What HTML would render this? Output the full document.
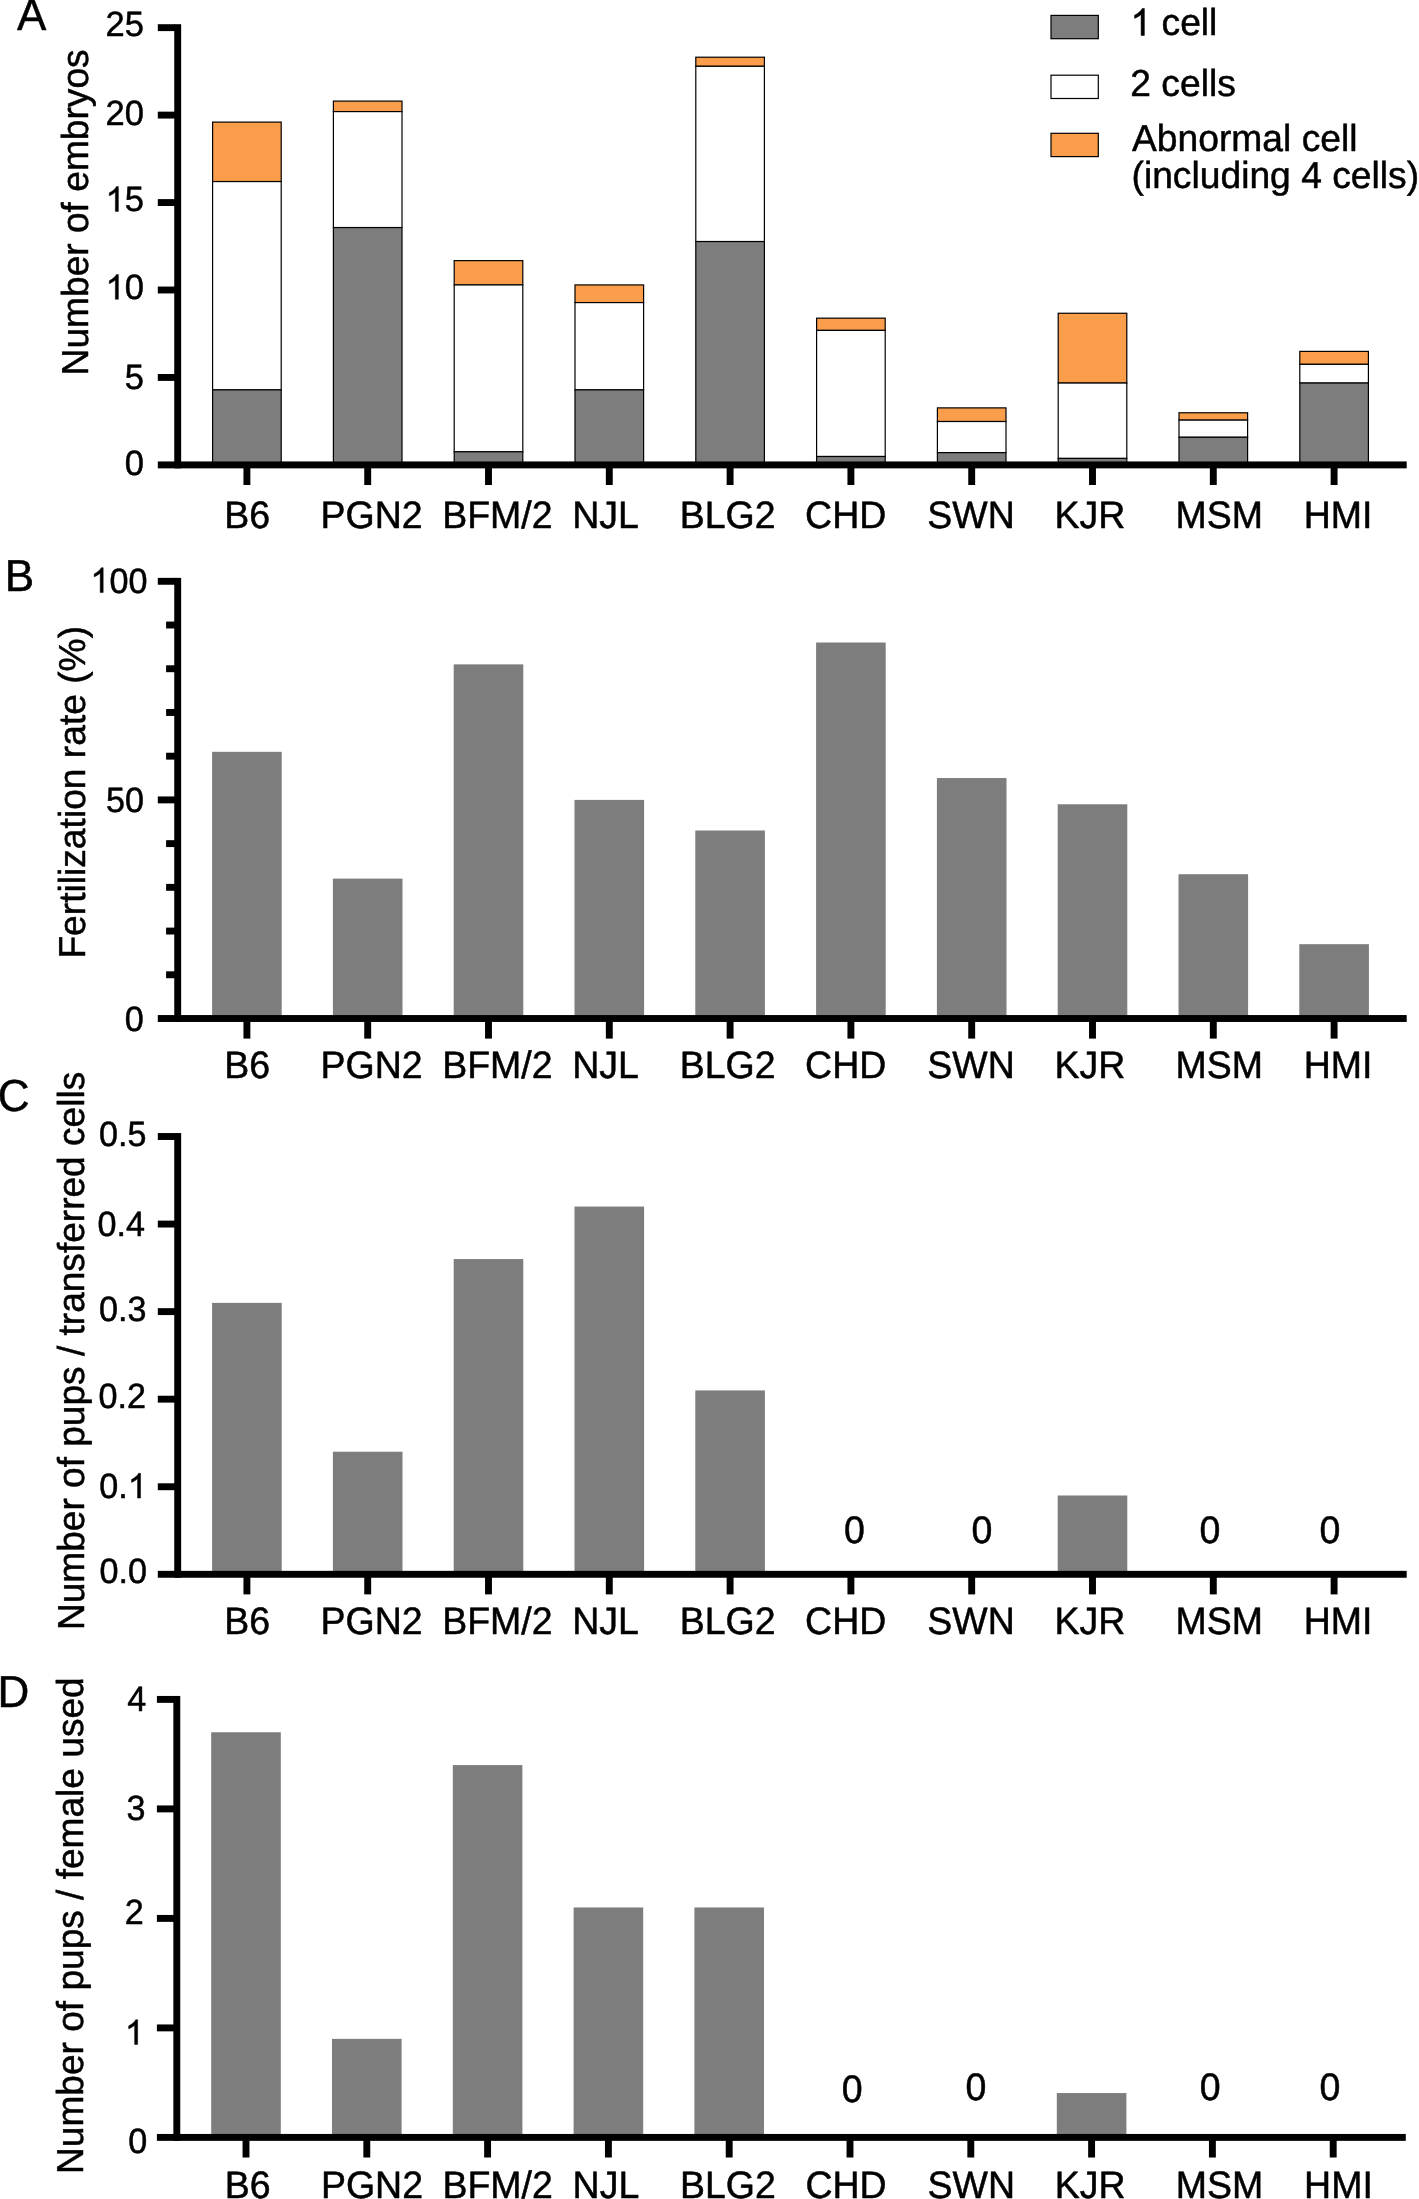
<!DOCTYPE html>
<html lang="en">
<head>
<meta charset="utf-8">
<title>Figure</title>
<style>
html,body{margin:0;padding:0;background:#fff;}
body{width:1419px;height:2199px;overflow:hidden;font-family:'Liberation Sans', sans-serif;}
svg{display:block;will-change:transform;}
svg text{font-family:'Liberation Sans', sans-serif;fill:#000;stroke:#000;stroke-width:0.5px;stroke-linejoin:round;text-rendering:geometricPrecision;}
svg path{fill:#000;stroke:#000;stroke-width:28px;stroke-linejoin:round;}
</style>
</head>
<body>
<svg width="1419" height="2199" viewBox="0 0 1419 2199">
<rect x="0" y="0" width="1419" height="2199" fill="#fff"/>
<rect x="212.6" y="122.1" width="68.6" height="59.47" fill="#fb9e4c" stroke="#000" stroke-width="1.2"/>
<rect x="212.6" y="181.56" width="68.6" height="208.31" fill="#fff" stroke="#000" stroke-width="1.2"/>
<rect x="212.6" y="389.87" width="68.6" height="75.03" fill="#7d7d7d" stroke="#000" stroke-width="1.2"/>
<rect x="333.4" y="101.11" width="68.6" height="10.49" fill="#fb9e4c" stroke="#000" stroke-width="1.2"/>
<rect x="333.4" y="111.6" width="68.6" height="115.96" fill="#fff" stroke="#000" stroke-width="1.2"/>
<rect x="333.4" y="227.56" width="68.6" height="237.34" fill="#7d7d7d" stroke="#000" stroke-width="1.2"/>
<rect x="454.2" y="260.62" width="68.6" height="24.31" fill="#fb9e4c" stroke="#000" stroke-width="1.2"/>
<rect x="454.2" y="284.93" width="68.6" height="166.85" fill="#fff" stroke="#000" stroke-width="1.2"/>
<rect x="454.2" y="451.78" width="68.6" height="13.12" fill="#7d7d7d" stroke="#000" stroke-width="1.2"/>
<rect x="575" y="284.93" width="68.6" height="17.66" fill="#fb9e4c" stroke="#000" stroke-width="1.2"/>
<rect x="575" y="302.59" width="68.6" height="87.28" fill="#fff" stroke="#000" stroke-width="1.2"/>
<rect x="575" y="389.87" width="68.6" height="75.03" fill="#7d7d7d" stroke="#000" stroke-width="1.2"/>
<rect x="695.8" y="57.21" width="68.6" height="9.09" fill="#fb9e4c" stroke="#000" stroke-width="1.2"/>
<rect x="695.8" y="66.3" width="68.6" height="175.25" fill="#fff" stroke="#000" stroke-width="1.2"/>
<rect x="695.8" y="241.55" width="68.6" height="223.35" fill="#7d7d7d" stroke="#000" stroke-width="1.2"/>
<rect x="816.6" y="318.16" width="68.6" height="12.24" fill="#fb9e4c" stroke="#000" stroke-width="1.2"/>
<rect x="816.6" y="330.4" width="68.6" height="126.1" fill="#fff" stroke="#000" stroke-width="1.2"/>
<rect x="816.6" y="456.5" width="68.6" height="8.4" fill="#7d7d7d" stroke="#000" stroke-width="1.2"/>
<rect x="937.4" y="407.88" width="68.6" height="13.64" fill="#fb9e4c" stroke="#000" stroke-width="1.2"/>
<rect x="937.4" y="421.52" width="68.6" height="31.13" fill="#fff" stroke="#000" stroke-width="1.2"/>
<rect x="937.4" y="452.66" width="68.6" height="12.24" fill="#7d7d7d" stroke="#000" stroke-width="1.2"/>
<rect x="1058.2" y="313.26" width="68.6" height="69.79" fill="#fb9e4c" stroke="#000" stroke-width="1.2"/>
<rect x="1058.2" y="383.05" width="68.6" height="75.38" fill="#fff" stroke="#000" stroke-width="1.2"/>
<rect x="1058.2" y="458.43" width="68.6" height="6.47" fill="#7d7d7d" stroke="#000" stroke-width="1.2"/>
<rect x="1179" y="412.78" width="68.6" height="7.35" fill="#fb9e4c" stroke="#000" stroke-width="1.2"/>
<rect x="1179" y="420.13" width="68.6" height="17.14" fill="#fff" stroke="#000" stroke-width="1.2"/>
<rect x="1179" y="437.27" width="68.6" height="27.63" fill="#7d7d7d" stroke="#000" stroke-width="1.2"/>
<rect x="1299.8" y="351.39" width="68.6" height="12.94" fill="#fb9e4c" stroke="#000" stroke-width="1.2"/>
<rect x="1299.8" y="364.33" width="68.6" height="18.71" fill="#fff" stroke="#000" stroke-width="1.2"/>
<rect x="1299.8" y="383.05" width="68.6" height="81.85" fill="#7d7d7d" stroke="#000" stroke-width="1.2"/>
<rect x="174.25" y="24.2" width="6.9" height="444.15" fill="#000"/>
<rect x="157.8" y="461.45" width="1248.9" height="6.9" fill="#000"/>
<rect x="157.8" y="374" width="17.2" height="6.9" fill="#000"/>
<rect x="157.8" y="286.55" width="17.2" height="6.9" fill="#000"/>
<rect x="157.8" y="199.1" width="17.2" height="6.9" fill="#000"/>
<rect x="157.8" y="111.65" width="17.2" height="6.9" fill="#000"/>
<rect x="157.8" y="24.2" width="17.2" height="6.9" fill="#000"/>
<g transform="translate(143.9 474.6) scale(1.0000 1)">
<text transform="translate(-19.19 0) scale(1 1.0200)" font-size="34.5">0</text>
</g>
<g transform="translate(143.9 388.8) scale(1.0000 1)">
<text transform="translate(-19.19 0) scale(1 1.0200)" font-size="34.5">5</text>
</g>
<g transform="translate(143.9 299.3) scale(1.0000 1)">
<path transform="translate(-38.37 0) scale(0.01685 -0.01685)" d="M763 0H583V1147Q518 1085 412.5 1023T223 930V1104Q374 1175 487 1276T647 1472H763Z"/>
<text transform="translate(-19.19 0) scale(1 1.0200)" font-size="34.5">0</text>
</g>
<g transform="translate(143.9 211.4) scale(1.0000 1)">
<path transform="translate(-38.37 0) scale(0.01685 -0.01685)" d="M763 0H583V1147Q518 1085 412.5 1023T223 930V1104Q374 1175 487 1276T647 1472H763Z"/>
<text transform="translate(-19.19 0) scale(1 1.0200)" font-size="34.5">5</text>
</g>
<g transform="translate(143.9 125.2) scale(1.0000 1)">
<text transform="translate(-38.37 0) scale(1 1.0200)" font-size="34.5">20</text>
</g>
<g transform="translate(143.9 36.3) scale(1.0000 1)">
<text transform="translate(-38.37 0) scale(1 1.0200)" font-size="34.5">25</text>
</g>
<rect x="243.45" y="464.9" width="6.9" height="20.1" fill="#000"/>
<rect x="364.25" y="464.9" width="6.9" height="20.1" fill="#000"/>
<rect x="485.05" y="464.9" width="6.9" height="20.1" fill="#000"/>
<rect x="605.85" y="464.9" width="6.9" height="20.1" fill="#000"/>
<rect x="726.65" y="464.9" width="6.9" height="20.1" fill="#000"/>
<rect x="847.45" y="464.9" width="6.9" height="20.1" fill="#000"/>
<rect x="968.25" y="464.9" width="6.9" height="20.1" fill="#000"/>
<rect x="1089.05" y="464.9" width="6.9" height="20.1" fill="#000"/>
<rect x="1209.85" y="464.9" width="6.9" height="20.1" fill="#000"/>
<rect x="1330.65" y="464.9" width="6.9" height="20.1" fill="#000"/>
<text transform="translate(247.3 528) scale(1.0000 1.0200)" font-size="37.5" text-anchor="middle">B6</text>
<text transform="translate(371.65 528) scale(1.0000 1.0200)" font-size="37.5" text-anchor="middle">PGN2</text>
<text transform="translate(497.35 528) scale(1.0000 1.0200)" font-size="37.5" text-anchor="middle">BFM/2</text>
<text transform="translate(605.6 528) scale(1.0000 1.0200)" font-size="37.5" text-anchor="middle">NJL</text>
<text transform="translate(727.6 528) scale(1.0000 1.0200)" font-size="37.5" text-anchor="middle">BLG2</text>
<text transform="translate(845.7 528) scale(1.0000 1.0200)" font-size="37.5" text-anchor="middle">CHD</text>
<text transform="translate(971 528) scale(1.0000 1.0200)" font-size="37.5" text-anchor="middle">SWN</text>
<text transform="translate(1089.8 528) scale(1.0000 1.0200)" font-size="37.5" text-anchor="middle">KJR</text>
<text transform="translate(1219.25 528) scale(1.0000 1.0200)" font-size="37.5" text-anchor="middle">MSM</text>
<text transform="translate(1338.15 528) scale(1.0000 1.0200)" font-size="37.5" text-anchor="middle">HMI</text>
<text transform="translate(88.3 375.4) rotate(-90) scale(0.9900 1.0000)" font-size="37.5" text-anchor="start">Number of embryos</text>
<text transform="translate(16.9 30.3) scale(1.0000 1.0200)" font-size="44" text-anchor="start">A</text>
<rect x="1051" y="15.4" width="47.3" height="23.3" fill="#7d7d7d" stroke="#000" stroke-width="1.2"/>
<rect x="1051" y="75.2" width="47.3" height="23.3" fill="#fff" stroke="#000" stroke-width="1.2"/>
<rect x="1051" y="133.3" width="47.3" height="23.3" fill="#fb9e4c" stroke="#000" stroke-width="1.2"/>
<g transform="translate(1130.5 35.4) scale(0.9925 1)">
<path transform="translate(0 0) scale(0.01831 -0.01831)" d="M763 0H583V1147Q518 1085 412.5 1023T223 930V1104Q374 1175 487 1276T647 1472H763Z"/>
</g>
<text transform="translate(1161.54 35.4) scale(0.9925 1.0000)" font-size="37.5" text-anchor="start">cell</text>
<text transform="translate(1130.3 95.6) scale(0.9925 1.0000)" font-size="37.5" text-anchor="start">2 cells</text>
<text transform="translate(1132 150.6) scale(0.9925 1.0000)" font-size="37.5" text-anchor="start">Abnormal cell</text>
<text transform="translate(1131.5 187.5) scale(0.9925 1.0000)" font-size="37.5" text-anchor="start">(including 4 cells)</text>
<rect x="212.1" y="751.81" width="69.6" height="266.69" fill="#7d7d7d"/>
<rect x="332.9" y="878.6" width="69.6" height="139.9" fill="#7d7d7d"/>
<rect x="453.7" y="664.37" width="69.6" height="354.13" fill="#7d7d7d"/>
<rect x="574.5" y="799.9" width="69.6" height="218.6" fill="#7d7d7d"/>
<rect x="695.3" y="830.5" width="69.6" height="188" fill="#7d7d7d"/>
<rect x="816.1" y="642.51" width="69.6" height="375.99" fill="#7d7d7d"/>
<rect x="936.9" y="778.04" width="69.6" height="240.46" fill="#7d7d7d"/>
<rect x="1057.7" y="804.27" width="69.6" height="214.23" fill="#7d7d7d"/>
<rect x="1178.5" y="874.22" width="69.6" height="144.28" fill="#7d7d7d"/>
<rect x="1299.3" y="944.18" width="69.6" height="74.32" fill="#7d7d7d"/>
<rect x="174.25" y="577.85" width="6.9" height="444.1" fill="#000"/>
<rect x="157.8" y="1015.05" width="1248.9" height="6.9" fill="#000"/>
<rect x="166.1" y="971.33" width="8.9" height="6.9" fill="#000"/>
<rect x="166.1" y="927.61" width="8.9" height="6.9" fill="#000"/>
<rect x="166.1" y="883.89" width="8.9" height="6.9" fill="#000"/>
<rect x="166.1" y="840.17" width="8.9" height="6.9" fill="#000"/>
<rect x="157.8" y="796.45" width="17.2" height="6.9" fill="#000"/>
<rect x="166.1" y="752.73" width="8.9" height="6.9" fill="#000"/>
<rect x="166.1" y="709.01" width="8.9" height="6.9" fill="#000"/>
<rect x="166.1" y="665.29" width="8.9" height="6.9" fill="#000"/>
<rect x="166.1" y="621.57" width="8.9" height="6.9" fill="#000"/>
<rect x="157.8" y="577.85" width="17.2" height="6.9" fill="#000"/>
<g transform="translate(147.4 592.5) scale(0.9890 1)">
<path transform="translate(-57.56 0) scale(0.01685 -0.01685)" d="M763 0H583V1147Q518 1085 412.5 1023T223 930V1104Q374 1175 487 1276T647 1472H763Z"/>
<text transform="translate(-38.37 0) scale(1 1.0200)" font-size="34.5">00</text>
</g>
<g transform="translate(143.9 812.4) scale(0.9890 1)">
<text transform="translate(-38.37 0) scale(1 1.0200)" font-size="34.5">50</text>
</g>
<g transform="translate(143.7 1030.7) scale(0.9890 1)">
<text transform="translate(-19.19 0) scale(1 1.0200)" font-size="34.5">0</text>
</g>
<rect x="243.45" y="1018.5" width="6.9" height="20.1" fill="#000"/>
<rect x="364.25" y="1018.5" width="6.9" height="20.1" fill="#000"/>
<rect x="485.05" y="1018.5" width="6.9" height="20.1" fill="#000"/>
<rect x="605.85" y="1018.5" width="6.9" height="20.1" fill="#000"/>
<rect x="726.65" y="1018.5" width="6.9" height="20.1" fill="#000"/>
<rect x="847.45" y="1018.5" width="6.9" height="20.1" fill="#000"/>
<rect x="968.25" y="1018.5" width="6.9" height="20.1" fill="#000"/>
<rect x="1089.05" y="1018.5" width="6.9" height="20.1" fill="#000"/>
<rect x="1209.85" y="1018.5" width="6.9" height="20.1" fill="#000"/>
<rect x="1330.65" y="1018.5" width="6.9" height="20.1" fill="#000"/>
<text transform="translate(247.3 1077.6) scale(1.0000 1.0200)" font-size="37.5" text-anchor="middle">B6</text>
<text transform="translate(371.65 1077.6) scale(1.0000 1.0200)" font-size="37.5" text-anchor="middle">PGN2</text>
<text transform="translate(497.35 1077.6) scale(1.0000 1.0200)" font-size="37.5" text-anchor="middle">BFM/2</text>
<text transform="translate(605.6 1077.6) scale(1.0000 1.0200)" font-size="37.5" text-anchor="middle">NJL</text>
<text transform="translate(727.6 1077.6) scale(1.0000 1.0200)" font-size="37.5" text-anchor="middle">BLG2</text>
<text transform="translate(845.7 1077.6) scale(1.0000 1.0200)" font-size="37.5" text-anchor="middle">CHD</text>
<text transform="translate(971 1077.6) scale(1.0000 1.0200)" font-size="37.5" text-anchor="middle">SWN</text>
<text transform="translate(1089.8 1077.6) scale(1.0000 1.0200)" font-size="37.5" text-anchor="middle">KJR</text>
<text transform="translate(1219.25 1077.6) scale(1.0000 1.0200)" font-size="37.5" text-anchor="middle">MSM</text>
<text transform="translate(1338.15 1077.6) scale(1.0000 1.0200)" font-size="37.5" text-anchor="middle">HMI</text>
<text transform="translate(85.4 958.6) rotate(-90) scale(0.9915 1.0000)" font-size="37.5" text-anchor="start">Fertilization rate (%)</text>
<text transform="translate(4.8 591) scale(1.0000 1.0200)" font-size="44" text-anchor="start">B</text>
<rect x="212.1" y="1302.86" width="69.6" height="271.44" fill="#7d7d7d"/>
<rect x="332.9" y="1451.72" width="69.6" height="122.58" fill="#7d7d7d"/>
<rect x="453.7" y="1259.08" width="69.6" height="315.22" fill="#7d7d7d"/>
<rect x="574.5" y="1206.55" width="69.6" height="367.75" fill="#7d7d7d"/>
<rect x="695.3" y="1390.42" width="69.6" height="183.88" fill="#7d7d7d"/>
<rect x="1057.7" y="1495.5" width="69.6" height="78.8" fill="#7d7d7d"/>
<rect x="174.25" y="1133.05" width="6.9" height="444.7" fill="#000"/>
<rect x="157.8" y="1570.85" width="1248.9" height="6.9" fill="#000"/>
<rect x="157.8" y="1483.29" width="17.2" height="6.9" fill="#000"/>
<rect x="157.8" y="1395.73" width="17.2" height="6.9" fill="#000"/>
<rect x="157.8" y="1308.17" width="17.2" height="6.9" fill="#000"/>
<rect x="157.8" y="1220.61" width="17.2" height="6.9" fill="#000"/>
<rect x="157.8" y="1133.05" width="17.2" height="6.9" fill="#000"/>
<g transform="translate(146.9 1583) scale(0.9890 1)">
<text transform="translate(-47.96 0) scale(1 1.0200)" font-size="34.5">0.0</text>
</g>
<g transform="translate(146.8 1498.1) scale(0.9890 1)">
<text transform="translate(-47.96 0) scale(1 1.0200)" font-size="34.5">0.</text>
<path transform="translate(-19.19 0) scale(0.01685 -0.01685)" d="M763 0H583V1147Q518 1085 412.5 1023T223 930V1104Q374 1175 487 1276T647 1472H763Z"/>
</g>
<g transform="translate(145.9 1408.1) scale(0.9890 1)">
<text transform="translate(-47.96 0) scale(1 1.0200)" font-size="34.5">0.2</text>
</g>
<g transform="translate(146.4 1320.9) scale(0.9890 1)">
<text transform="translate(-47.96 0) scale(1 1.0200)" font-size="34.5">0.3</text>
</g>
<g transform="translate(145 1236.3) scale(0.9890 1)">
<text transform="translate(-47.96 0) scale(1 1.0200)" font-size="34.5">0.4</text>
</g>
<g transform="translate(146.4 1145.5) scale(0.9890 1)">
<text transform="translate(-47.96 0) scale(1 1.0200)" font-size="34.5">0.5</text>
</g>
<rect x="243.45" y="1574.3" width="6.9" height="20.1" fill="#000"/>
<rect x="364.25" y="1574.3" width="6.9" height="20.1" fill="#000"/>
<rect x="485.05" y="1574.3" width="6.9" height="20.1" fill="#000"/>
<rect x="605.85" y="1574.3" width="6.9" height="20.1" fill="#000"/>
<rect x="726.65" y="1574.3" width="6.9" height="20.1" fill="#000"/>
<rect x="847.45" y="1574.3" width="6.9" height="20.1" fill="#000"/>
<rect x="968.25" y="1574.3" width="6.9" height="20.1" fill="#000"/>
<rect x="1089.05" y="1574.3" width="6.9" height="20.1" fill="#000"/>
<rect x="1209.85" y="1574.3" width="6.9" height="20.1" fill="#000"/>
<rect x="1330.65" y="1574.3" width="6.9" height="20.1" fill="#000"/>
<text transform="translate(247.3 1634.4) scale(1.0000 1.0200)" font-size="37.5" text-anchor="middle">B6</text>
<text transform="translate(371.65 1634.4) scale(1.0000 1.0200)" font-size="37.5" text-anchor="middle">PGN2</text>
<text transform="translate(497.35 1634.4) scale(1.0000 1.0200)" font-size="37.5" text-anchor="middle">BFM/2</text>
<text transform="translate(605.6 1634.4) scale(1.0000 1.0200)" font-size="37.5" text-anchor="middle">NJL</text>
<text transform="translate(727.6 1634.4) scale(1.0000 1.0200)" font-size="37.5" text-anchor="middle">BLG2</text>
<text transform="translate(845.7 1634.4) scale(1.0000 1.0200)" font-size="37.5" text-anchor="middle">CHD</text>
<text transform="translate(971 1634.4) scale(1.0000 1.0200)" font-size="37.5" text-anchor="middle">SWN</text>
<text transform="translate(1089.8 1634.4) scale(1.0000 1.0200)" font-size="37.5" text-anchor="middle">KJR</text>
<text transform="translate(1219.25 1634.4) scale(1.0000 1.0200)" font-size="37.5" text-anchor="middle">MSM</text>
<text transform="translate(1338.15 1634.4) scale(1.0000 1.0200)" font-size="37.5" text-anchor="middle">HMI</text>
<text transform="translate(84.3 1630.1) rotate(-90) scale(0.9884 1.0000)" font-size="37.5" text-anchor="start">Number of pups / transferred cells</text>
<text transform="translate(-2.2 1111) scale(1.0000 1.0200)" font-size="44" text-anchor="start">C</text>
<text transform="translate(854.4 1543) scale(1.0000 1.0200)" font-size="37.5" text-anchor="middle">0</text>
<text transform="translate(982 1543) scale(1.0000 1.0200)" font-size="37.5" text-anchor="middle">0</text>
<text transform="translate(1210 1543) scale(1.0000 1.0200)" font-size="37.5" text-anchor="middle">0</text>
<text transform="translate(1330 1543) scale(1.0000 1.0200)" font-size="37.5" text-anchor="middle">0</text>
<rect x="211.2" y="1732.25" width="69.6" height="405.15" fill="#7d7d7d"/>
<rect x="332" y="2038.85" width="69.6" height="98.55" fill="#7d7d7d"/>
<rect x="452.8" y="1765.1" width="69.6" height="372.3" fill="#7d7d7d"/>
<rect x="573.6" y="1907.45" width="69.6" height="229.95" fill="#7d7d7d"/>
<rect x="694.4" y="1907.45" width="69.6" height="229.95" fill="#7d7d7d"/>
<rect x="1056.8" y="2093.05" width="69.6" height="44.35" fill="#7d7d7d"/>
<rect x="173.35" y="1695.95" width="6.9" height="444.9" fill="#000"/>
<rect x="156.9" y="2133.95" width="1248.9" height="6.9" fill="#000"/>
<rect x="156.9" y="2024.45" width="17.2" height="6.9" fill="#000"/>
<rect x="156.9" y="1914.95" width="17.2" height="6.9" fill="#000"/>
<rect x="156.9" y="1805.45" width="17.2" height="6.9" fill="#000"/>
<rect x="156.9" y="1695.95" width="17.2" height="6.9" fill="#000"/>
<g transform="translate(147.2 2152.6) scale(0.9890 1)">
<text transform="translate(-19.19 0) scale(1 1.0200)" font-size="34.5">0</text>
</g>
<g transform="translate(143.9 2044.5) scale(0.9890 1)">
<path transform="translate(-19.19 0) scale(0.01685 -0.01685)" d="M763 0H583V1147Q518 1085 412.5 1023T223 930V1104Q374 1175 487 1276T647 1472H763Z"/>
</g>
<g transform="translate(143.7 1924) scale(0.9890 1)">
<text transform="translate(-19.19 0) scale(1 1.0200)" font-size="34.5">2</text>
</g>
<g transform="translate(145.4 1820.4) scale(0.9890 1)">
<text transform="translate(-19.19 0) scale(1 1.0200)" font-size="34.5">3</text>
</g>
<g transform="translate(146.2 1710.9) scale(0.9890 1)">
<text transform="translate(-19.19 0) scale(1 1.0200)" font-size="34.5">4</text>
</g>
<rect x="242.55" y="2137.4" width="6.9" height="20.1" fill="#000"/>
<rect x="363.35" y="2137.4" width="6.9" height="20.1" fill="#000"/>
<rect x="484.15" y="2137.4" width="6.9" height="20.1" fill="#000"/>
<rect x="604.95" y="2137.4" width="6.9" height="20.1" fill="#000"/>
<rect x="725.75" y="2137.4" width="6.9" height="20.1" fill="#000"/>
<rect x="846.55" y="2137.4" width="6.9" height="20.1" fill="#000"/>
<rect x="967.35" y="2137.4" width="6.9" height="20.1" fill="#000"/>
<rect x="1088.15" y="2137.4" width="6.9" height="20.1" fill="#000"/>
<rect x="1208.95" y="2137.4" width="6.9" height="20.1" fill="#000"/>
<rect x="1329.75" y="2137.4" width="6.9" height="20.1" fill="#000"/>
<text transform="translate(247.6 2198.4) scale(1.0000 1.0200)" font-size="37.5" text-anchor="middle">B6</text>
<text transform="translate(371.95 2198.4) scale(1.0000 1.0200)" font-size="37.5" text-anchor="middle">PGN2</text>
<text transform="translate(497.65 2198.4) scale(1.0000 1.0200)" font-size="37.5" text-anchor="middle">BFM/2</text>
<text transform="translate(605.9 2198.4) scale(1.0000 1.0200)" font-size="37.5" text-anchor="middle">NJL</text>
<text transform="translate(727.9 2198.4) scale(1.0000 1.0200)" font-size="37.5" text-anchor="middle">BLG2</text>
<text transform="translate(846 2198.4) scale(1.0000 1.0200)" font-size="37.5" text-anchor="middle">CHD</text>
<text transform="translate(971.3 2198.4) scale(1.0000 1.0200)" font-size="37.5" text-anchor="middle">SWN</text>
<text transform="translate(1090.1 2198.4) scale(1.0000 1.0200)" font-size="37.5" text-anchor="middle">KJR</text>
<text transform="translate(1219.55 2198.4) scale(1.0000 1.0200)" font-size="37.5" text-anchor="middle">MSM</text>
<text transform="translate(1338.45 2198.4) scale(1.0000 1.0200)" font-size="37.5" text-anchor="middle">HMI</text>
<text transform="translate(82.9 2174) rotate(-90) scale(0.9887 1.0000)" font-size="37.5" text-anchor="start">Number of pups / female used</text>
<text transform="translate(-2.6 1706.5) scale(1.0000 1.0200)" font-size="44" text-anchor="start">D</text>
<text transform="translate(852.1 2101.8) scale(1.0000 1.0200)" font-size="37.5" text-anchor="middle">0</text>
<text transform="translate(975.9 2099.7) scale(1.0000 1.0200)" font-size="37.5" text-anchor="middle">0</text>
<text transform="translate(1210.2 2099.7) scale(1.0000 1.0200)" font-size="37.5" text-anchor="middle">0</text>
<text transform="translate(1330 2099.7) scale(1.0000 1.0200)" font-size="37.5" text-anchor="middle">0</text>
</svg>
</body>
</html>
